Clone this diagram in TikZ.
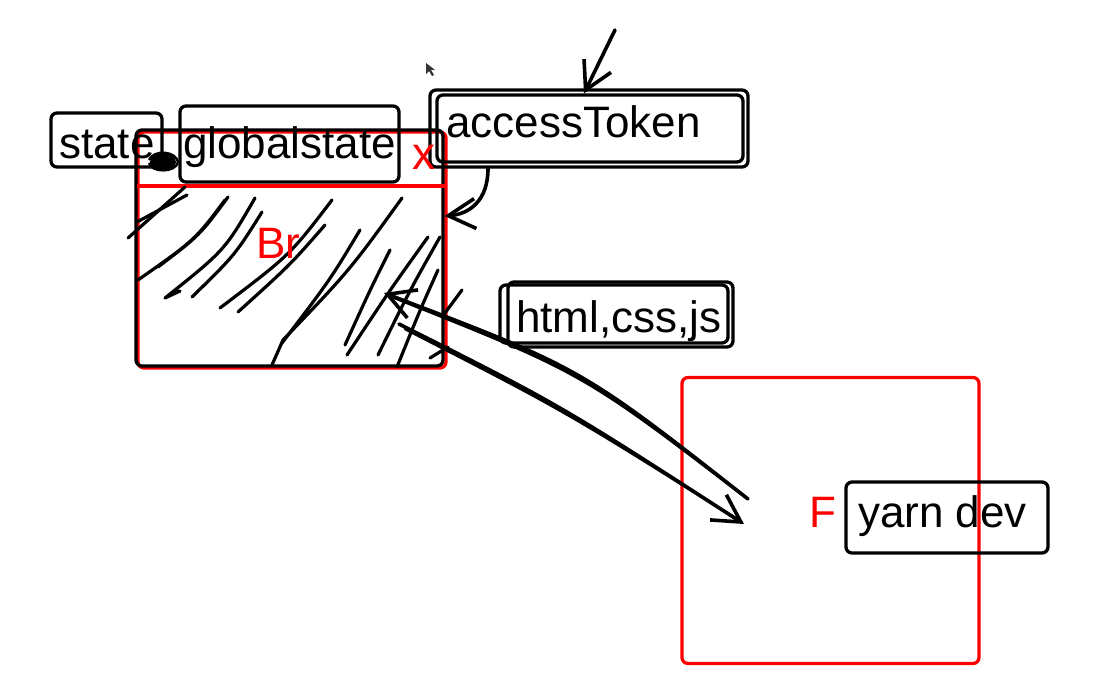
\documentclass[tikz,border=0pt]{standalone}
\usepackage{fontspec}
\setmainfont{Liberation Sans}
\usetikzlibrary{arrows.meta}
\begin{document}
\begin{tikzpicture}[x=1pt,y=-1pt,
  tag/.style={draw=black,line width=3.3pt,rounded corners=6pt,inner sep=0pt},
  frame/.style={draw=red,line width=3.3pt,rounded corners=6pt,inner sep=0pt},
  lbl/.style={anchor=base west,inner sep=0pt,font=\fontsize{44}{48}\selectfont},
  rlbl/.style={lbl,text=red},
  pen/.style={line width=3.6pt,line cap=round,line join=round},
  hatch/.style={line width=3.2pt,line cap=round,line join=round},
  tipb/.style={-{Straight Barb[length=27pt,width=30pt]}}
]
\useasboundingbox[fill=white] (0,0) rectangle (1095,698);

% browser frame
\node[frame,minimum width=308pt,minimum height=236pt] (brred) at (292,250) {};
\node[tag,minimum width=307pt,minimum height=236pt] (br) at (289.5,248) {};
\draw[red,line width=3.3pt] (137,186) -- (445,186);

% hatching
\draw[hatch] (185,187) -- (128,238);
\draw[hatch] (187,195) -- (137,222);
\draw[hatch] (228,197) .. controls (200,235) .. (158,267);
\draw[hatch] (225,200) .. controls (195,240) .. (138,280);
\draw[hatch] (255,198) .. controls (225,250) .. (165,298) -- (180,291);
\draw[hatch] (262,212) .. controls (235,255) .. (192,297);
\draw[hatch] (332,200) .. controls (290,255) .. (220,308);
\draw[hatch] (325,225) .. controls (290,265) .. (238,312);
\draw[hatch] (402,198) .. controls (350,270) .. (283,340) -- (272,365);
\draw[hatch] (360,230) .. controls (330,280) .. (282,343);
\draw[hatch] (390,250) .. controls (370,290) .. (345,345);
\draw[hatch] (428,237) .. controls (390,290) .. (347,355);
\draw[hatch] (440,237) .. controls (410,290) .. (378,355);
\draw[hatch] (438,270) .. controls (420,310) .. (397,367);
\draw[hatch] (448,347) -- (430,358);
\draw[hatch] (462,290) -- (442,317);

% frontend frame
\node[frame,minimum width=297pt,minimum height=286pt] (fe) at (830.5,520.5) {};

% tags
\node[tag,minimum width=111pt,minimum height=54pt] (state) at (106.5,140) {};
\node[tag,minimum width=219pt,minimum height=76pt] (gstate) at (289.5,144) {};
\node[tag,minimum width=318pt,minimum height=77pt] (tokenout) at (589,128.5) {};
\node[tag,minimum width=306pt,minimum height=67pt] (token) at (590,128.5) {};
\node[tag,minimum width=228pt,minimum height=58pt] (htmlb) at (614,314) {};
\node[tag,minimum width=225pt,minimum height=65pt] (html) at (620.5,314.5) {};
\node[tag,minimum width=202pt,minimum height=71pt] (yarn) at (947,517.5) {};

% blob
\fill (163,162) ellipse [x radius=13pt, y radius=9pt];
\draw[line width=2.4pt] (149,160) .. controls (154,149) and (176,151) .. (178,162) .. controls (176,173) and (151,173) .. (149,163);

% labels
\node[lbl] (tstate) at (59,158) {state};
\node[lbl] (tgstate) at (183,158) {globalstate};
\node[lbl] (ttoken) at (446,138) {accessToken};
\node[lbl] (thtml) at (516,332) {html,css,js};
\node[lbl] (tyarn) at (858,527) {yarn dev};
\node[rlbl] (tbr) at (256,258) {Br};
\node[rlbl] (tf) at (809,527) {F};
\node[rlbl,font=\fontsize{46}{48}\selectfont] (tx) at (412,170) {x};

% arrows
\coordinate (topstart) at (615,30);
\draw[pen,tipb] (topstart) -- (token.north -| 584,0);
\draw[pen,tipb] (tokenout.south -| 488,0) .. controls (488,200) and (470,214) .. (br.east |- 0,216);

\coordinate (u1) at (748,499);
\coordinate (u2) at (384,293);
\coordinate (l1) at (399,324);
\coordinate (l2) at (744,524);
\draw[pen,tipb] (u1) .. controls (581,368) .. (u2);
\draw[line width=2.6pt,line cap=round] (745,497) .. controls (583,373) .. (392,297);
\draw[pen,tipb] (l1) .. controls (560,405) .. (l2);
\draw[line width=2.6pt,line cap=round] (405,329) .. controls (565,411) .. (735,518);

% cursor
\fill[black!80] (426,63) -- (426,74) -- (429,71) -- (432,76) -- (434,75) -- (431,70) -- (435,70) -- cycle;
\end{tikzpicture}
\end{document}
